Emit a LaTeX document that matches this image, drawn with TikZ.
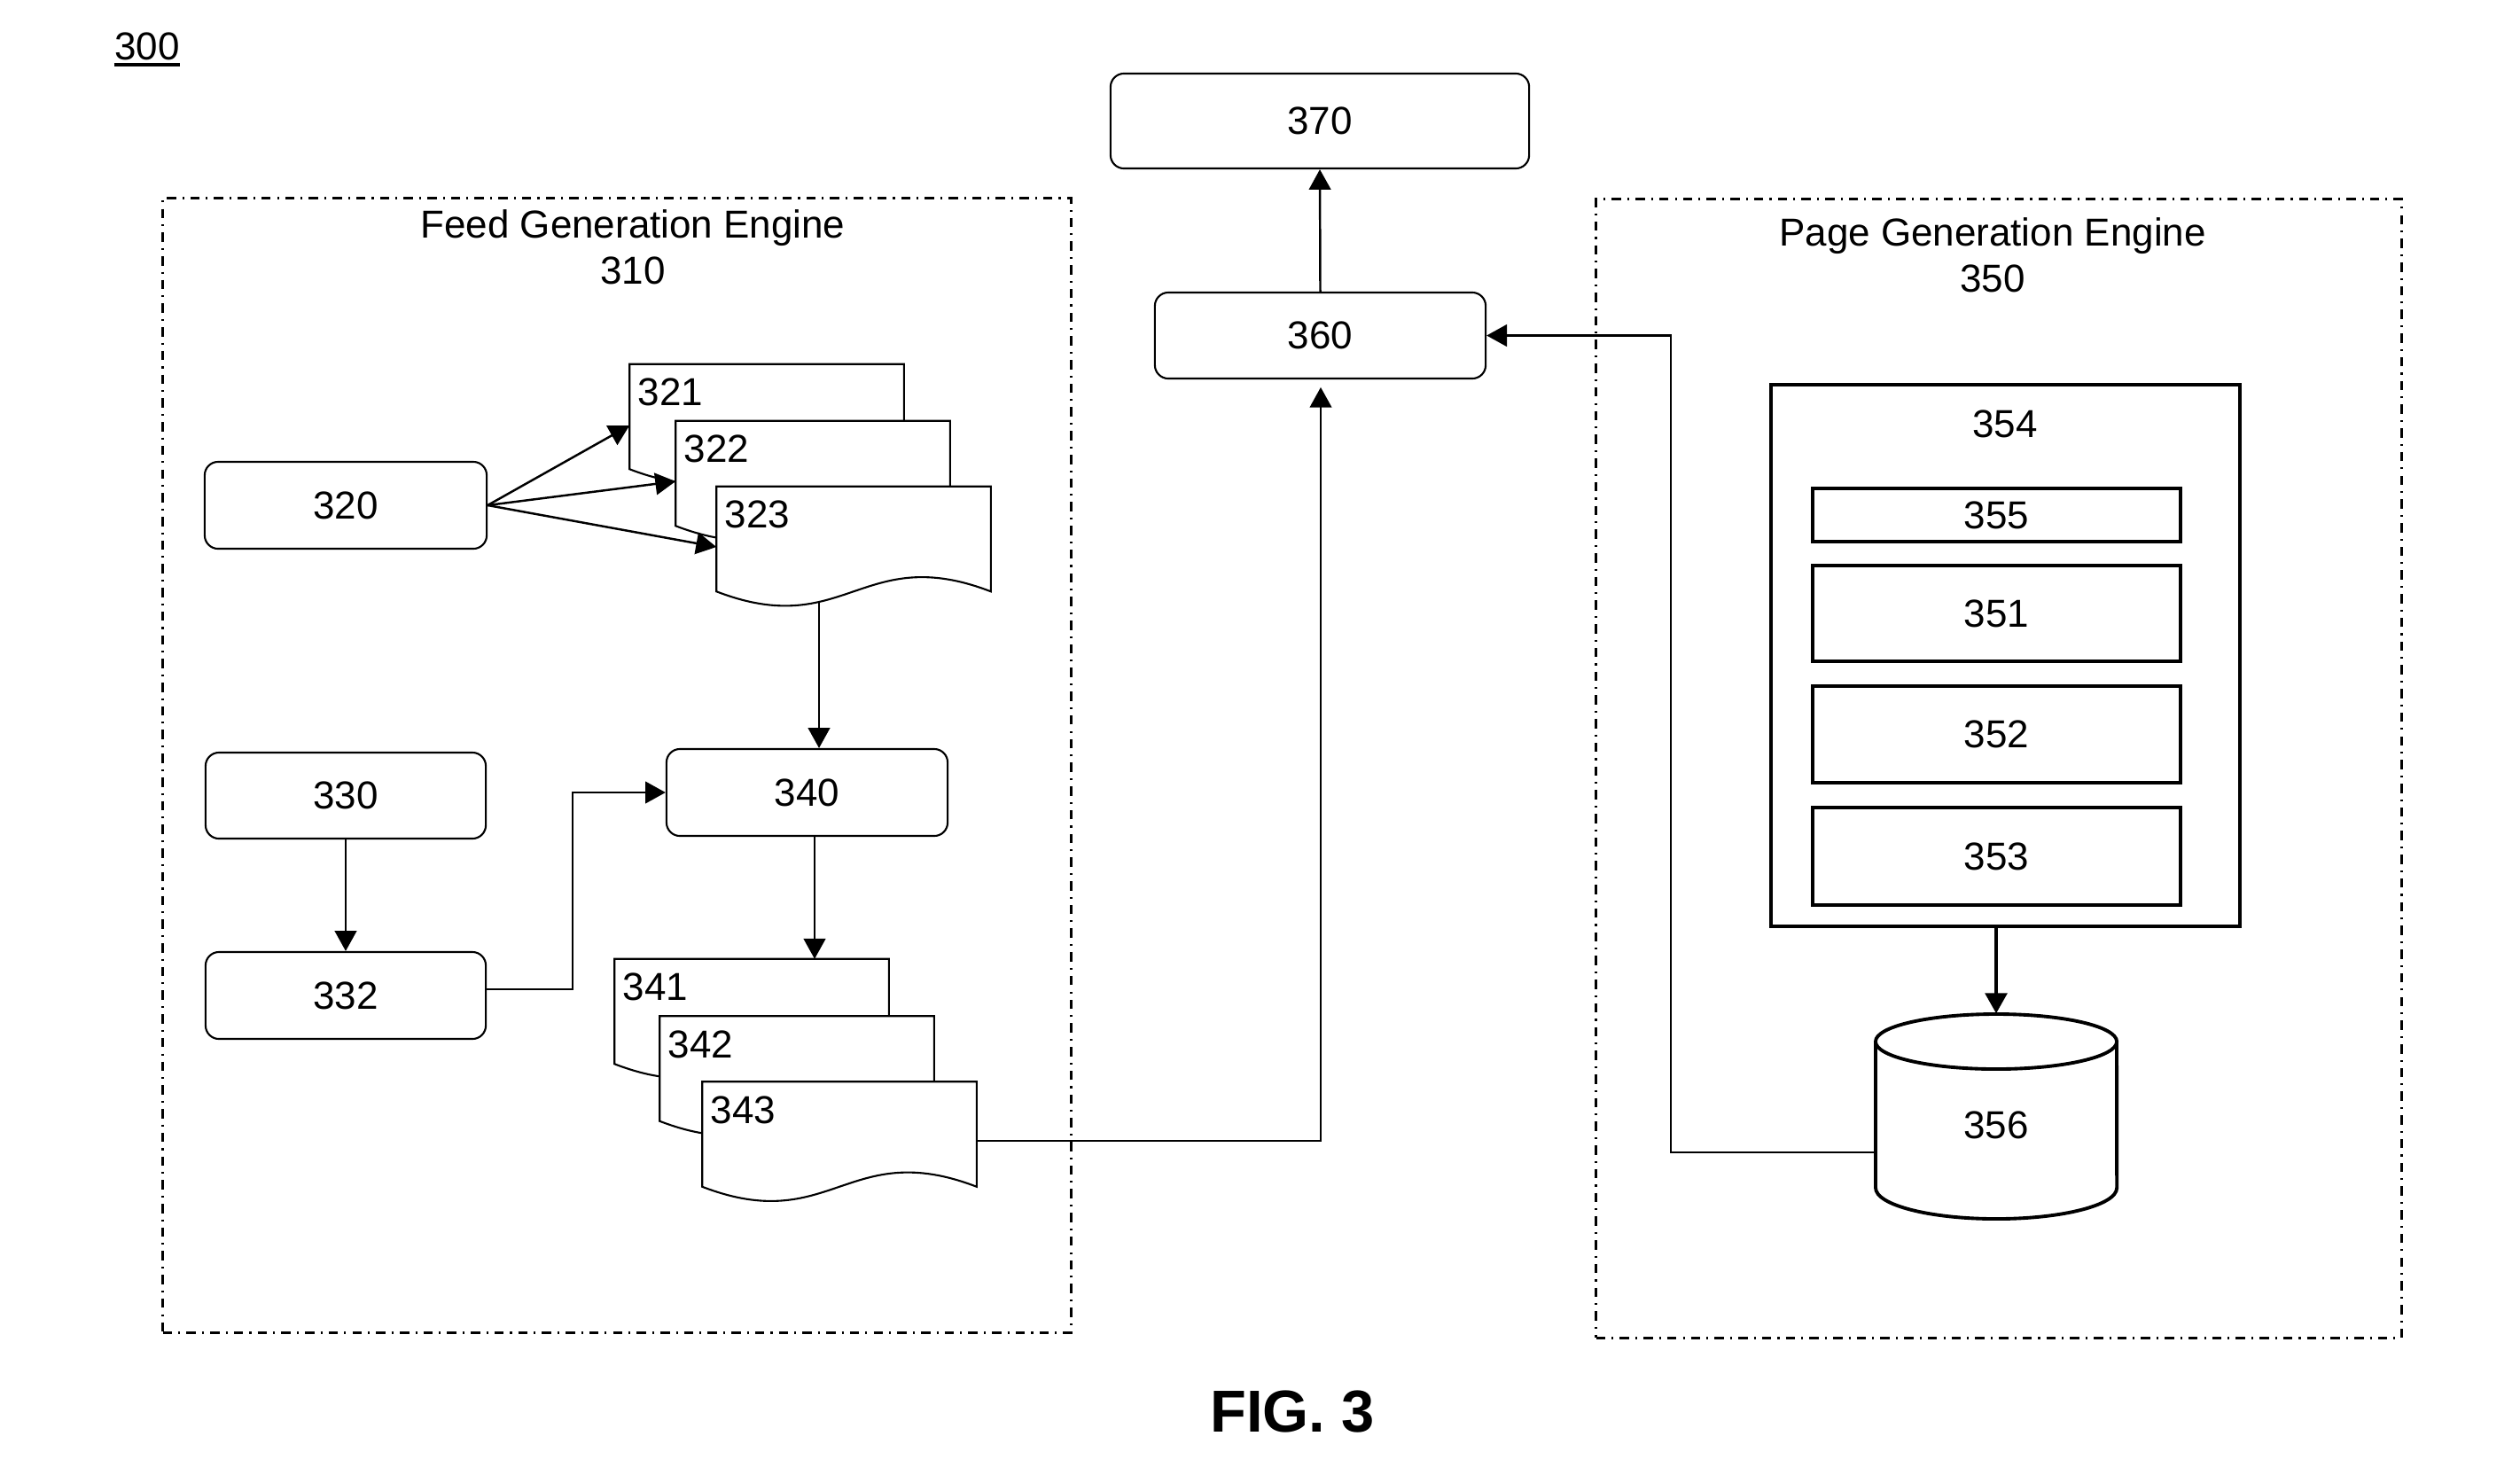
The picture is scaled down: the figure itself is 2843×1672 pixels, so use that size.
\documentclass[tikz,border=0pt]{standalone}
\usepackage{fontspec}
\setmainfont{Liberation Sans}
\usetikzlibrary{arrows.meta,calc}
\newcommand\drawdoc[2]{%
  \draw[docline] (#1.south west) -- (#1.north west) -- (#1.north east) -- (#1.south east)
    .. controls ($(#1.south east)!0.47!(#1.south west)+(0,-56)$) and ($(#1.south east)!0.53!(#1.south west)+(0,56)$) .. (#1.south west) -- cycle;
  \node[anchor=west,inner sep=0pt] (t#2) at ($(#1.north west)+(9,32)$) {#2};}
\begin{document}
\begin{tikzpicture}[x=0.01cm,y=-0.01cm,
  font=\fontsize{12.5}{15}\selectfont,
  every node/.style={inner sep=0pt},
  rbox/.style={draw,line width=0.6pt,rounded corners=4.3pt,fill=white},
  sbox/.style={draw,line width=1.1pt,fill=white},
  engine/.style={draw,line width=0.8pt,dash pattern=on 3pt off 2pt on 0.6pt off 2pt},
  docnode/.style={minimum width=3.08cm,minimum height=1.17cm},
  docline/.style={draw,fill=white,line width=0.6pt},
  arr/.style={line width=0.7pt,-{Triangle[length=6.5pt,width=7pt]}},
  tarr/.style={line width=1.1pt,-{Triangle[length=6.5pt,width=7pt]}}
]
\useasboundingbox (0,0) rectangle (2843,1672);

% figure number
\node[anchor=base] (l300) at (166,67) {300};
\draw[line width=0.9pt] ($(l300.base west)+(0,6)$) -- ($(l300.base east)+(0,6)$);

% engines
\node[engine,minimum width=10.24cm,minimum height=12.79cm] (feed) at (696,863.5) {};
\node[anchor=base] (feedtitle) at (714,268) {Feed Generation Engine};
\node[anchor=base] (t310) at (714,320) {310};
\node[engine,minimum width=9.08cm,minimum height=12.84cm] (page) at (2255,867) {};
\node[anchor=base] (pagetitle) at (2248,277) {Page Generation Engine};
\node[anchor=base] (t350) at (2248,329) {350};

% top boxes
\node[rbox,minimum width=4.72cm,minimum height=1.07cm] (n370) at (1489,136.5) {370};
\node[rbox,minimum width=3.73cm,minimum height=0.97cm] (n360) at (1489.5,378.5) {360};

% feed engine content
\node[rbox,minimum width=3.18cm,minimum height=0.98cm] (n320) at (390,570) {320};
\node[rbox,minimum width=3.16cm,minimum height=0.97cm] (n330) at (390,897.5) {330};
\node[rbox,minimum width=3.16cm,minimum height=0.98cm] (n332) at (390,1123) {332};
\node[rbox,minimum width=3.17cm,minimum height=0.98cm] (n340) at (910.5,894) {340};

\node[docnode] (d321) at (865,470) {};
\node[docnode] (d322) at (917,534) {};
\node[docnode] (d323) at (963,608) {};
\drawdoc{d321}{321}
\drawdoc{d322}{322}
\drawdoc{d323}{323}

\node[docnode] (d341) at (848,1141) {};
\node[docnode] (d342) at (899,1205.5) {};
\node[docnode] (d343) at (947,1279.5) {};
\drawdoc{d341}{341}
\drawdoc{d342}{342}
\drawdoc{d343}{343}

% page engine content
\node[sbox,minimum width=5.29cm,minimum height=6.11cm] (n354) at (2262.5,739.5) {};
\node (t354) at (2262,478) {354};
\node[sbox,minimum width=4.15cm,minimum height=0.60cm] (n355) at (2252.5,581) {355};
\node[sbox,minimum width=4.15cm,minimum height=1.08cm] (n351) at (2252.5,692) {351};
\node[sbox,minimum width=4.15cm,minimum height=1.09cm] (n352) at (2252.5,828.5) {352};
\node[sbox,minimum width=4.15cm,minimum height=1.10cm] (n353) at (2252.5,966) {353};

\node[minimum width=2.72cm,minimum height=2.31cm] (cyl) at (2252,1259.5) {};
\draw[line width=1.1pt,fill=white] (2116,1175) -- (2116,1340)
  arc[start angle=180,end angle=360,x radius=1.36cm,y radius=0.35cm] -- (2388,1175);
\draw[line width=1.1pt,fill=white] (2252,1175) ellipse [x radius=1.36cm,y radius=0.31cm];
\node (t356) at (2252,1269) {356};

% connectors
\coordinate (b1) at (1885,1300);
\coordinate (b2) at (1490,1287);
\coordinate (b3) at (646,1116);
\coordinate (b4) at (919,0);
\coordinate (b5) at (924,0);

\draw[arr] (n320.east) -- ($(d321.west)+(0,10)$);
\draw[arr] (n320.east) -- ($(d322.west)+(0,9)$);
\draw[arr] (n320.east) -- ($(d323.west)+(0,9)$);
\draw[arr] ($(b5 |- d323.south)+(0,12)$) -- (b5 |- n340.north);
\draw[arr] (n330.south) -- (n332.north);
\draw[arr] (n332.east |- b3) -- (b3) |- (n340.west);
\draw[arr] (b4 |- n340.south) -- (b4 |- d341.north);
\draw[arr,shorten >=2.5pt] (b2 -| d343.east) -- (b2) -- (b2 |- n360.south);
\draw[arr] (n360.north) -- (n370.south);
\draw[tarr] (cyl.north |- n354.south) -- (cyl.north);
\draw[arr] (b1 -| cyl.west) -- (b1) |- (n360.east);

% caption
\node[anchor=base,font=\bfseries\fontsize{19}{23}\selectfont] (fig) at (1458,1615) {FIG. 3};
\end{tikzpicture}
\end{document}
